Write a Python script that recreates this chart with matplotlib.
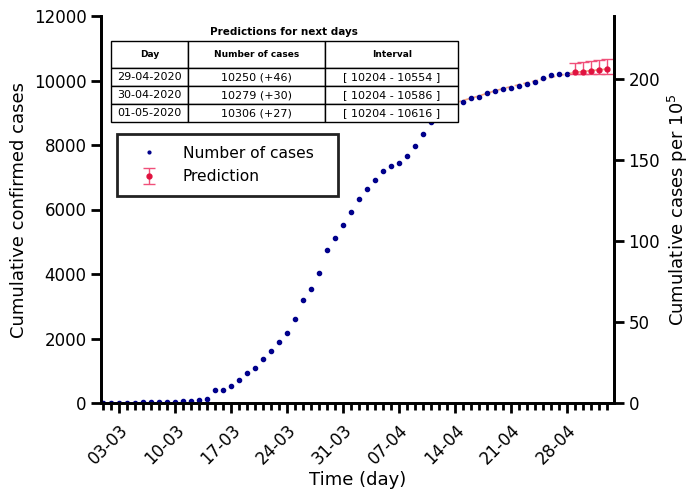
import numpy as np
import matplotlib
matplotlib.use('Agg')
import matplotlib.pyplot as plt
import matplotlib.dates as mdates
from matplotlib.ticker import FixedLocator
import datetime as dt

# observed cumulative cases, 01-03-2020 .. 28-04-2020
start = dt.date(2020, 3, 1)
cases = [0, 0, 0, 0, 0, 30, 30, 30, 30, 40, 60, 70, 90, 130, 400, 400,
         540, 720, 920, 1100, 1365, 1600, 1900, 2170, 2615, 3200, 3535, 4040,
         4745, 5116, 5510, 5933, 6316, 6626, 6905, 7194, 7349, 7452, 7669,
         7979, 8341, 8700, 8950, 9150, 9260, 9343, 9447, 9500, 9603, 9674,
         9736, 9777, 9840, 9881, 9943, 10088, 10180, 10200, 10204]

# predictions 29-04 .. 03-05
pred = [10250, 10279, 10306, 10331, 10354]
pred_low = [10204, 10204, 10204, 10204, 10204]
pred_high = [10554, 10586, 10616, 10645, 10673]

# fitted curve (orange dashed), day index from 01-03
fit_day = [43, 45, 47, 49, 51, 53, 55, 57, 58, 59, 60, 61, 62, 63]
fit_val = [9230, 9380, 9520, 9680, 9810, 9930, 10040, 10150, 10204, 10250,
           10279, 10306, 10331, 10354]

tick_labels = ['03-03', '10-03', '17-03', '24-03', '31-03', '07-04', '14-04',
               '21-04', '28-04']

table_cols = ['Day', 'Number of cases', 'Interval']
table_rows = [['29-04-2020', '10250 (+46)', '[ 10204 - 10554 ]'],
              ['30-04-2020', '10279 (+30)', '[ 10204 - 10586 ]'],
              ['01-05-2020', '10306 (+27)', '[ 10204 - 10616 ]']]

population = 5.02e6

days = [start + dt.timedelta(days=i) for i in range(len(cases))]
pdays = [days[-1] + dt.timedelta(days=i + 1) for i in range(len(pred))]
fdays = [start + dt.timedelta(days=d) for d in fit_day]

fig = plt.figure(figsize=(6.93, 5), dpi=100)
ax = fig.add_axes([0.1457, 0.194, 0.7403, 0.774])

ax.plot(fdays, fit_val, '--', color='#f4a582', lw=1.2, zorder=1)
ax.plot(days, cases, 'o', color='#00008b', ms=3, lw=0, label='Number of cases', zorder=3)
yerr = [np.array(pred) - np.array(pred_low), np.array(pred_high) - np.array(pred)]
ax.errorbar(pdays, pred, yerr=yerr, fmt='o', color='#e0123f', ecolor='#f0507a',
            ms=3.5, elinewidth=1, capsize=4, label='Prediction', zorder=4)

ax.set_ylim(0, 12000)
ax.set_yticks(range(0, 12001, 2000))
x0 = mdates.date2num(start) - 0.25
x1 = mdates.date2num(pdays[-1]) + 0.9
ax.set_xlim(x0, x1)

tick_dates = [dt.datetime.strptime(t + '-2020', '%d-%m-%Y') for t in tick_labels]
ax.xaxis.set_major_locator(FixedLocator(mdates.date2num(tick_dates)))
ax.xaxis.set_major_formatter(mdates.DateFormatter('%d-%m'))
ax.xaxis.set_minor_locator(mdates.DayLocator())
plt.setp(ax.get_xticklabels(), rotation=45, ha='right', rotation_mode='anchor')

ax.spines['top'].set_visible(False)
for s in ['left', 'right', 'bottom']:
    ax.spines[s].set_linewidth(2)
ax.tick_params(axis='both', which='major', labelsize=12, width=2, length=7)
ax.tick_params(axis='x', which='major', pad=6)
ax.tick_params(axis='x', which='minor', width=2, length=5)
ax.set_xlabel('Time (day)', fontsize=13, labelpad=2)
ax.set_ylabel('Cumulative confirmed cases', fontsize=13)

ax2 = ax.twinx()
ax2.set_ylim(0, 12000 / population * 1e5)
ax2.set_yticks([0, 50, 100, 150, 200])
ax2.spines['top'].set_visible(False)
for s in ['left', 'right', 'bottom']:
    ax2.spines[s].set_linewidth(2)
ax2.tick_params(axis='y', labelsize=12, width=2, length=7)
ax2.set_ylabel('Cumulative cases per 10$^5$', fontsize=13)

leg = ax.legend(loc='upper left', bbox_to_anchor=(0.031, 0.5, 0.431, 0.195),
                mode='expand', borderaxespad=0,
                fontsize=11.2, fancybox=False, framealpha=1, handlelength=2.6,
                borderpad=0.75, labelspacing=0.55, handletextpad=0.9)
leg.get_frame().set_edgecolor('#222222')
leg.get_frame().set_linewidth(2)
leg.legend_handles[0].set_markersize(2)

tb = ax2.table(cellText=table_rows, colLabels=table_cols, cellLoc='center',
               colWidths=[0.222, 0.395, 0.383], bbox=[0.0195, 0.726, 0.677, 0.209])
tb.auto_set_font_size(False)
tb.set_fontsize(8)
for (r, c), cell in tb.get_celld().items():
    cell.set_linewidth(1)
    if r == 0:
        cell.set_height(cell.get_height() * 1.5)
        cell.get_text().set_fontweight('bold')
        cell.get_text().set_fontsize(6.5)
tb.set_zorder(10)
ax2.text(0.357, 0.958, 'Predictions for next days', transform=ax2.transAxes,
         ha='center', va='center', fontsize=7.5, fontweight='bold')

fig.savefig('out.png', dpi=100)
